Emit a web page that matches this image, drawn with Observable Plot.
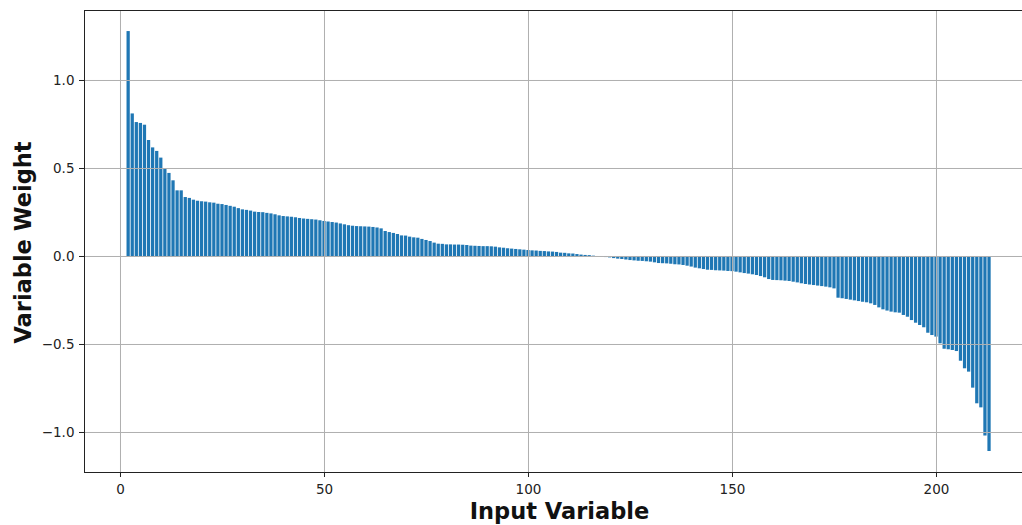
<!DOCTYPE html>
<html>
<head>
<meta charset="utf-8">
<script src="https://cdn.jsdelivr.net/npm/d3@7"></script>
<script src="https://cdn.jsdelivr.net/npm/@observablehq/plot@0.6"></script>
<style>
  html, body { margin: 0; padding: 0; background: #fff; }
  #chart svg { display: block; }
</style>
</head>
<body>
<div id="chart"></div>
<script>
// Input variable numbering of the first bar
const firstVariable = 2;

// Variable weights, sorted, variables 2..213
const weightsHigh = [1.278, 0.81, 0.761, 0.756, 0.746, 0.659, 0.617, 0.597, 0.559, 0.496, 0.472, 0.43, 0.373, 0.373, 0.335, 0.33, 0.32, 0.314, 0.311, 0.309, 0.305, 0.303, 0.297, 0.295, 0.29, 0.285, 0.28, 0.272];
const weightsMidHigh = [0.265, 0.262, 0.258, 0.252, 0.25, 0.249, 0.245, 0.242, 0.237, 0.231, 0.227, 0.225, 0.223, 0.22, 0.216, 0.213, 0.211, 0.209, 0.207, 0.203, 0.199, 0.196, 0.193, 0.19, 0.185, 0.18, 0.175, 0.172, 0.17, 0.169, 0.168, 0.167, 0.165, 0.162];
const weightsMid = [0.157, 0.142, 0.136, 0.131, 0.125, 0.117, 0.116, 0.11, 0.106, 0.104, 0.097, 0.091, 0.085, 0.076, 0.07, 0.069, 0.066, 0.066, 0.065, 0.065, 0.064, 0.0625, 0.059, 0.058, 0.057, 0.056, 0.056, 0.055, 0.053, 0.049, 0.047, 0.044, 0.042];
const weightsZero = [0.04, 0.038, 0.036, 0.034, 0.032, 0.031, 0.029, 0.028, 0.026, 0.025, 0.023, 0.019, 0.018, 0.015, 0.014, 0.011, 0.008, 0.006, 0.005, 0.002, -0.002, -0.004, -0.006, -0.008, -0.012, -0.015, -0.017, -0.02, -0.023, -0.025, -0.027, -0.028, -0.03];
const weightsMidLow = [-0.032, -0.036, -0.04, -0.041, -0.042, -0.044, -0.047, -0.048, -0.051, -0.055, -0.06, -0.066, -0.07, -0.074, -0.078, -0.079, -0.081, -0.082, -0.083, -0.085, -0.086, -0.089, -0.093, -0.097, -0.1, -0.104, -0.108, -0.114, -0.121, -0.131, -0.136, -0.137, -0.138];
const weightsLow = [-0.14, -0.142, -0.146, -0.15, -0.155, -0.159, -0.162, -0.165, -0.168, -0.171, -0.174, -0.178, -0.184, -0.237, -0.24, -0.244, -0.248, -0.252, -0.256, -0.26, -0.263, -0.269, -0.278, -0.292, -0.303, -0.31, -0.316];
const weightsTail = [-0.32, -0.322, -0.335, -0.345, -0.364, -0.379, -0.392, -0.405, -0.436, -0.449, -0.458, -0.496, -0.527, -0.53, -0.534, -0.54, -0.595, -0.638, -0.657, -0.748, -0.837, -0.86, -1.02, -1.108];

const xTicks = [0, 50, 100, 150, 200];
const yTicks = [-1.0, -0.5, 0.0, 0.5, 1.0];
const xLabel = "Input Variable";
const yLabel = "Variable Weight";

const weights = [].concat(weightsHigh, weightsMidHigh, weightsMid, weightsZero, weightsMidLow, weightsLow, weightsTail);
const data = weights.map((w, i) => ({variable: firstVariable + i, weight: w}));

const font = "'DejaVu Sans', Arial, sans-serif";
const gridColor = "#b0b0b0";
const barColor = "#1f77b4";

const chart = Plot.plot({
  width: 1022,
  height: 525,
  marginLeft: 84,
  marginRight: 0,
  marginTop: 10,
  marginBottom: 53,
  style: {fontFamily: font, fontSize: "13.5px", color: "#222", background: "#fff"},
  x: {domain: [-8.82, 221.08]},
  y: {domain: [-1.2273, 1.3977]},
  marks: [
    Plot.rect(data, {
      x1: d => d.variable - 0.4,
      x2: d => d.variable + 0.4,
      y1: 0,
      y2: "weight",
      fill: barColor
    }),
    Plot.gridX(xTicks, {stroke: gridColor, strokeOpacity: 1, strokeWidth: 1}),
    Plot.gridY(yTicks, {stroke: gridColor, strokeOpacity: 1, strokeWidth: 1}),
    Plot.axisX(xTicks, {tickSize: 5, tickPadding: 7, label: null, fontSize: 13.5, stroke: "#222"}),
    Plot.axisY(yTicks, {tickSize: 5, tickPadding: 5, label: null, fontSize: 13.5, tickFormat: d3.format(".1f"), stroke: "#222"}),
    Plot.frame({anchor: "top", stroke: "#222"}),
    Plot.frame({anchor: "left", stroke: "#222"}),
    Plot.frame({anchor: "bottom", stroke: "#222"}),
    Plot.text([xLabel], {frameAnchor: "bottom", dx: 6, dy: 46, fontSize: 22.5, fontWeight: "bold", textAnchor: "middle", fill: "#111"}),
    Plot.text([yLabel], {frameAnchor: "left", dx: -61, dy: 1, rotate: -90, fontSize: 22.5, fontWeight: "bold", textAnchor: "middle", fill: "#111"})
  ]
});

document.getElementById("chart").append(chart);
</script>
</body>
</html>
